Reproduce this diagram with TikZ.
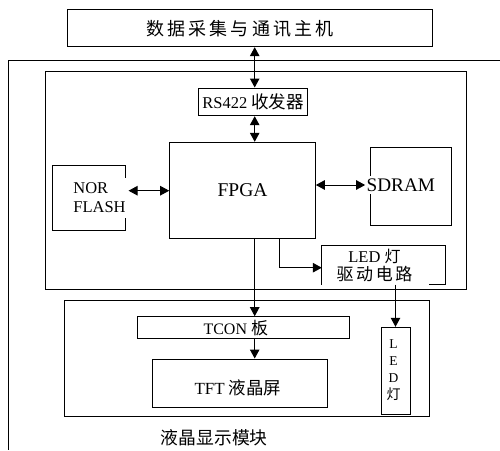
\documentclass[tikz,border=0pt]{standalone}
\usepackage{fontspec}
\setmainfont{Liberation Serif}
\newfontfamily\cjk{Noto Sans CJK SC}
\newfontfamily\cjkwide[LetterSpace=18]{Noto Sans CJK SC}
\newfontfamily\cjkmid[LetterSpace=15]{Noto Sans CJK SC}
\usetikzlibrary{arrows.meta,calc}
\newcommand{\fsz}[2]{\fontsize{#1}{#2}\selectfont}
\begin{document}
\begin{tikzpicture}[x=1pt,y=-1pt,line width=1pt,
  box/.style={draw,rectangle,inner sep=0pt},
  frame/.style={rectangle,inner sep=0pt},
  lbl/.style={inner sep=0pt,align=center},
  cover/.style={fill=white,inner xsep=1pt,inner ysep=4pt},
  tip/.tip={Triangle[length=9pt,width=9.5pt]},
  arr/.style={-tip},
  biarr/.style={tip-tip}]
\useasboundingbox (0,0) rectangle (500,450);

% outer frame (only top and left edges visible)
\coordinate (ftr) at (500,60.5);
\coordinate (ftl) at (8.3,60.5);
\coordinate (fbl) at (8.3,450);
\draw (ftr) -- (ftl) -- (fbl);

% helper coordinates
\coordinate (bus) at (254.7,0);
\coordinate (x1) at (279.3,0);
\coordinate (y1) at (0,267.7);

% host
\node[box,minimum width=365pt,minimum height=37.3pt] (host) at (250.3,28) {};
\node[lbl] (hosttext) at (240,28.3) {\fsz{18}{20}\cjkwide 数据采集与通讯主机};

% main board
\node[box,minimum width=421pt,minimum height=218.3pt] (board) at (255.5,180.15) {};

% RS422
\node[box,minimum width=109pt,minimum height=27.7pt,font=\fsz{16.5}{18}] (rs) at (253.2,101.85) {RS422 {\cjk\fsz{17.5}{18}收发器}};

% FPGA
\node[box,minimum width=145.6pt,minimum height=96pt,font=\fsz{19.5}{20}] (fpga) at (242.5,190.3) {FPGA};

% NOR FLASH
\node[box,minimum width=73.3pt,minimum height=64.3pt] (nor) at (88.7,197.85) {};
\node[cover,align=left,font=\fsz{16.5}{19},inner ysep=5pt] (nortext) at (99.5,198) {NOR\\FLASH};

% SDRAM
\node[box,minimum width=81pt,minimum height=77.7pt] (sdram) at (411.2,186.15) {};
\node[cover,font=\fsz{19.2}{20},inner ysep=3pt] (sdtext) at (400.8,185) {SDRAM};

% LED driver (bottom edge partly hidden)
\node[frame,minimum width=122.4pt,minimum height=38.3pt] (drv) at (383.5,264.85) {};
\draw (drv.south west) -- (drv.north west) -- (drv.north east) -- (drv.south east) -- ($(drv.south east)+(-16.4,0)$);
\node[lbl,font=\fsz{16.5}{17.5}] (drvtext) at (374.5,265.5) {LED {\cjk\fsz{16}{17.5}灯}\\{\cjkmid\fsz{17}{17.5}驱动电路}};

% LCD module
\node[box,minimum width=364.7pt,minimum height=116pt] (lcd) at (246.65,358.7) {};
\node[box,minimum width=212pt,minimum height=21.6pt] (tcon) at (243.3,327.5) {};
\node[lbl,font=\fsz{16}{18}] (tcontext) at (235.8,328.5) {TCON {\cjk\fsz{17}{18}板}};
\node[box,minimum width=175.3pt,minimum height=48.7pt] (tft) at (239.65,383.35) {};
\node[lbl,font=\fsz{17}{18}] (tfttext) at (238,388.3) {TFT {\cjk\fsz{17.5}{18}液晶屏}};
\node[box,minimum width=29pt,minimum height=87pt] (led) at (395.5,370.8) {};
\node[lbl,font=\fsz{13.5}{16.8}] (ledtext) at (393.5,370) {L\\E\\D\\{\cjk\fsz{14}{16.8}灯}};
\node[lbl] (cap) at (214.2,438) {\fsz{17.8}{20}\cjk 液晶显示模块};

% connectors
\draw[biarr] (host.south -| bus) -- (rs.north -| bus);
\draw[biarr] (rs.south -| bus) -- (fpga.north -| bus);
\draw[biarr] ($(nor.east |- fpga.west)+(2.7,0.4)$) -- ($(fpga.west)+(0,0.4)$);
\draw[biarr] ($(fpga.east)+(0,-5.3)$) -- ($(sdtext.west |- fpga.east)+(0,-5.3)$);
\draw[arr] (fpga.south -| x1) |- (drv.west |- y1);
\draw[arr] (fpga.south -| bus) -- (tcon.north -| bus);
\draw[arr] (tcon.south -| bus) -- (tft.north -| bus);
\draw[arr] (drv.south -| led.north) -- (led.north);
\end{tikzpicture}
\end{document}
